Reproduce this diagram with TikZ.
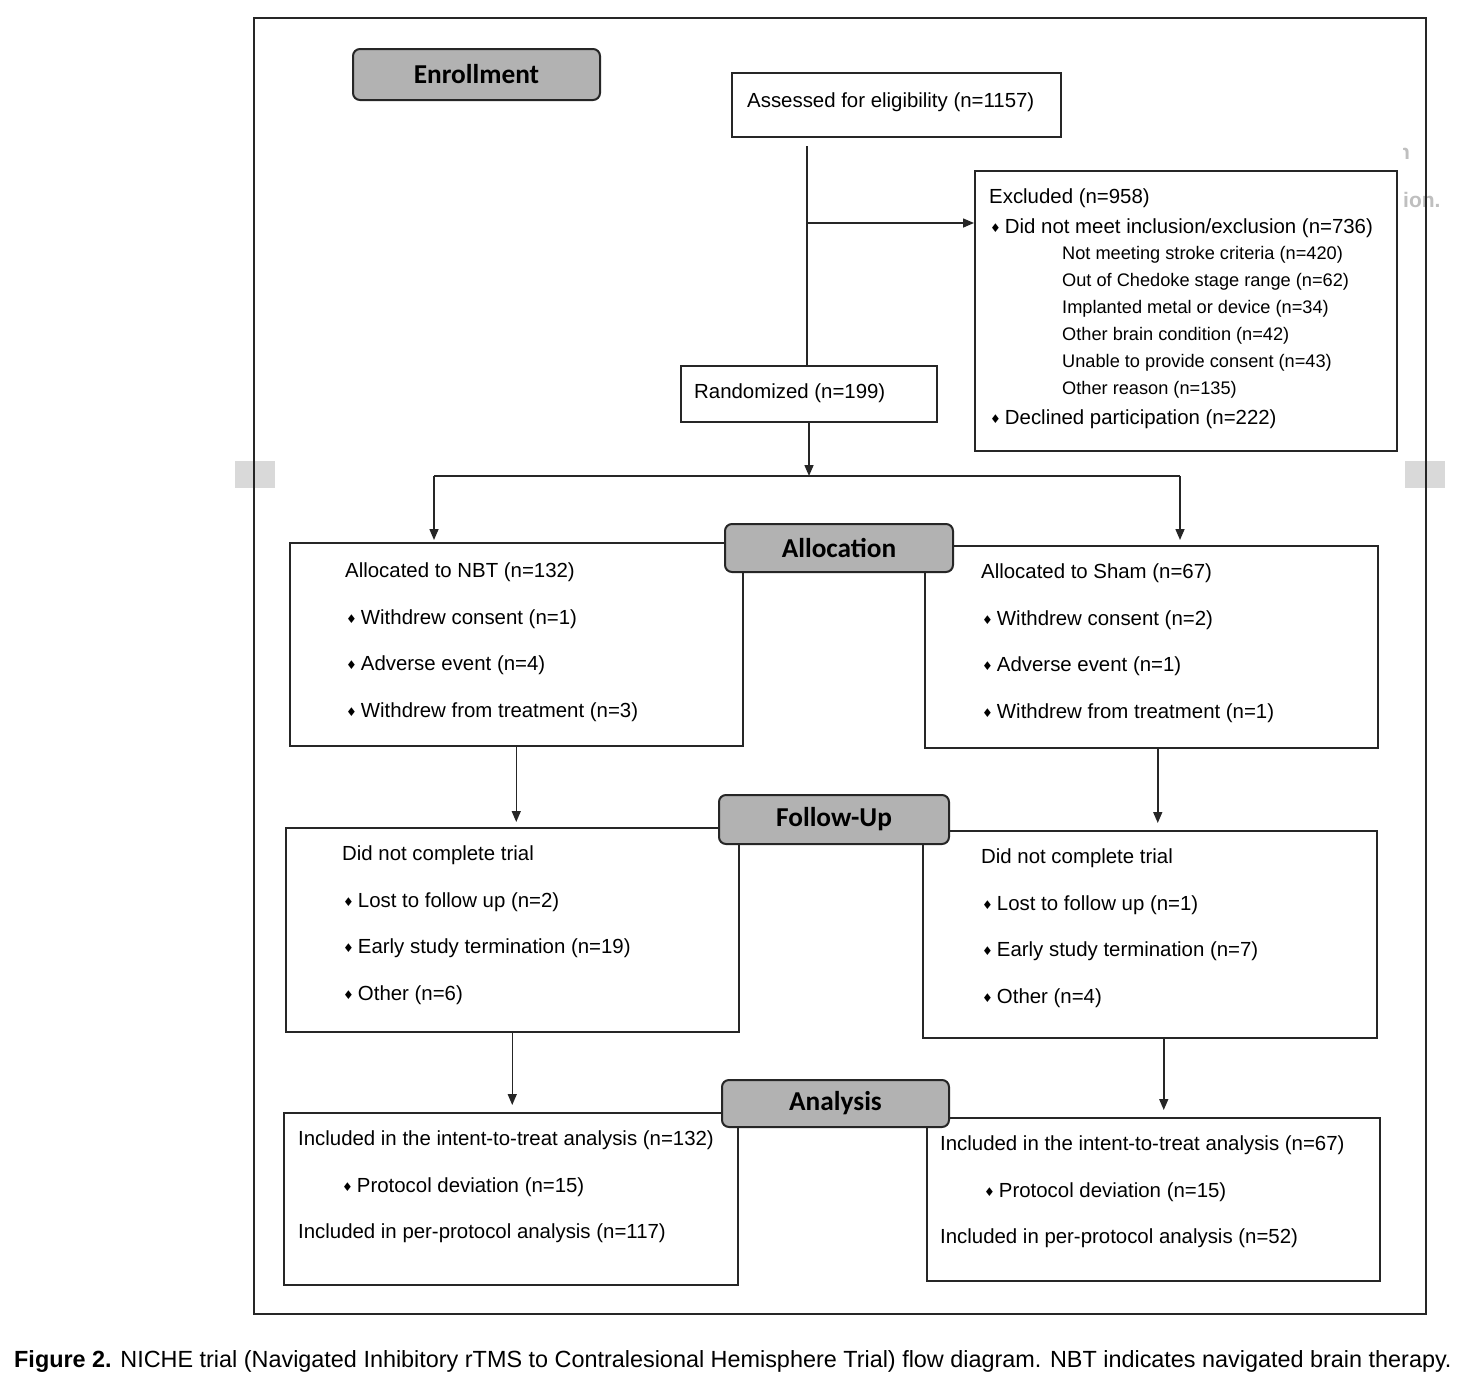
\documentclass[tikz,border=0pt]{standalone}
\usepackage{fontspec}
\setmainfont{Liberation Sans}
\newfontfamily\lblfont{Carlito}
\newfontfamily\djv{DejaVu Sans}
\usetikzlibrary{arrows.meta}
\newcommand\bul{{\djv\fontsize{12}{12}\selectfont\raisebox{0.5pt}{♦}}\hspace{4pt}}
\begin{document}
\begin{tikzpicture}[x=1pt,y=-1pt,
 box/.style={draw=black!85, line width=1.5pt, inner sep=0pt, anchor=north west, fill=white},
 lbl/.style={draw=black!85, line width=2pt, rounded corners=7pt, fill=black!30, inner sep=0pt, anchor=north west, font=\lblfont\bfseries\fontsize{27.3}{27}\selectfont},
 txt/.style={inner sep=0pt, anchor=west, yshift=-2pt, font=\fontsize{20.4}{24}\selectfont, text=black},
 sub/.style={txt, font=\fontsize{18.2}{22}\selectfont},
 arr/.style={line width=1.5pt, draw=black!85, -{Triangle[length=11pt,width=9pt]}},
 ln/.style={line width=1.5pt, draw=black!85}]
\useasboundingbox (0,0) rectangle (1472,1384);
\fill[white] (0,0) rectangle (1472,1384);
% faint artifacts
\fill[black!15] (235,461) rectangle (275,488);
\fill[black!15] (1405,461) rectangle (1445,488);
\node[txt, text=black!25, font=\bfseries\fontsize{21}{21}\selectfont] (art1) at (1403,198) {ion.};
\begin{scope}
\clip (1403,138) rectangle (1415,162);
\node[txt, text=black!25, font=\bfseries\fontsize{21}{21}\selectfont] (art2) at (1397,152) {n};
\end{scope}
% outer frame
\draw[line width=2.2pt, draw=black!85] (254,18) rectangle (1426,1314);

% boxes
\node[box, minimum width=329pt, minimum height=64pt] (assess) at (731,72) {};
\node[box, minimum width=422pt, minimum height=280pt] (excl) at (974,170) {};
\node[box, minimum width=256pt, minimum height=56pt] (rand) at (680,365) {};
\node[box, minimum width=453pt, minimum height=203pt] (nbt) at (289,542) {};
\node[box, minimum width=453pt, minimum height=202pt] (sham) at (924,545) {};
\node[box, minimum width=453pt, minimum height=204pt] (ful) at (285,827) {};
\node[box, minimum width=454pt, minimum height=207pt] (fur) at (922,830) {};
\node[box, minimum width=454pt, minimum height=172pt] (anl) at (283,1112) {};
\node[box, minimum width=453pt, minimum height=163pt] (anr) at (926,1117) {};

% label boxes
\node[lbl, minimum width=247pt, minimum height=51pt] (enr) at (352,48) {Enrollment};
\node[lbl, minimum width=228pt, minimum height=48pt] (alloc) at (724,523) {Allocation};
\node[lbl, minimum width=230pt, minimum height=49pt] (fu) at (718,794) {Follow-Up};
\node[lbl, minimum width=227pt, minimum height=47pt] (ana) at (721,1079) {Analysis};

% connectors
\coordinate (a0) at (807,146);
\coordinate (a1) at (807,223);
\draw[ln] (a0) -- (a0 |- rand.north);
\draw[arr] (a1) -- (a1 -| excl.west);
\coordinate (split) at (809,476);
\coordinate (sl) at (434,476);
\coordinate (sr) at (1180,476);
\draw[arr] (rand.south -| split) -- (split);
\draw[ln] (sl) -- (sr);
\draw[arr] (sl) -- ([yshift=2pt]sl |- nbt.north);
\draw[arr] (sr) -- ([yshift=5pt]sr |- sham.north);
\draw[arr] (nbt.south) -- ([yshift=5pt]nbt.south |- ful.north);
\draw[arr] ([xshift=6.5pt]sham.south) -- ([yshift=7pt,xshift=6.5pt]sham.south |- fur.north);
\draw[arr] (ful.south) -- ([yshift=7pt]ful.south |- anl.north);
\draw[arr] ([xshift=14pt]fur.south) -- ([yshift=7pt,xshift=14pt]fur.south |- anr.north);

% texts
\node[txt] (assess-t) at (747,100) {Assessed for eligibility (n=1157)};
\node[txt] (ex0) at (989,196) {Excluded (n=958)};
\node[txt] (ex1) at (990,226) {\bul Did not meet inclusion/exclusion (n=736)};
\node[sub] (ex2) at (1062,253) {Not meeting stroke criteria (n=420)};
\node[sub] (ex3) at (1062,280) {Out of Chedoke stage range (n=62)};
\node[sub] (ex4) at (1062,307) {Implanted metal or device (n=34)};
\node[sub] (ex5) at (1062,334) {Other brain condition (n=42)};
\node[sub] (ex6) at (1062,361) {Unable to provide consent (n=43)};
\node[sub] (ex7) at (1062,388) {Other reason (n=135)};
\node[txt] (ex8) at (990,417) {\bul Declined participation (n=222)};
\node[txt] (rand-t) at (694,391) {Randomized (n=199)};

\node[txt] (nbt0) at (345,570) {Allocated to NBT (n=132)};
\node[txt] (nbt1) at (346,617) {\bul Withdrew consent (n=1)};
\node[txt] (nbt2) at (346,663) {\bul Adverse event (n=4)};
\node[txt] (nbt3) at (346,710) {\bul Withdrew from treatment (n=3)};

\node[txt] (sh0) at (981,571) {Allocated to Sham (n=67)};
\node[txt] (sh1) at (982,618) {\bul Withdrew consent (n=2)};
\node[txt] (sh2) at (982,664) {\bul Adverse event (n=1)};
\node[txt] (sh3) at (982,711) {\bul Withdrew from treatment (n=1)};

\node[txt] (fl0) at (342,853) {Did not complete trial};
\node[txt] (fl1) at (343,900) {\bul Lost to follow up (n=2)};
\node[txt] (fl2) at (343,946) {\bul Early study termination (n=19)};
\node[txt] (fl3) at (343,993) {\bul Other (n=6)};

\node[txt] (fr0) at (981,856) {Did not complete trial};
\node[txt] (fr1) at (982,903) {\bul Lost to follow up (n=1)};
\node[txt] (fr2) at (982,949) {\bul Early study termination (n=7)};
\node[txt] (fr3) at (982,996) {\bul Other (n=4)};

\node[txt] (al0) at (298,1138) {Included in the intent-to-treat analysis (n=132)};
\node[txt] (al1) at (342,1185) {\bul Protocol deviation (n=15)};
\node[txt] (al2) at (298,1231) {Included in per-protocol analysis (n=117)};

\node[txt] (ar0) at (940,1143) {Included in the intent-to-treat analysis (n=67)};
\node[txt] (ar1) at (984,1190) {\bul Protocol deviation (n=15)};
\node[txt] (ar2) at (940,1236) {Included in per-protocol analysis (n=52)};

% caption
\node[txt, text=black, font=\fontsize{23.4}{26}\selectfont] (cap) at (14,1359) {\textbf{Figure 2.} NICHE trial (Navigated Inhibitory rTMS to Contralesional Hemisphere Trial) flow diagram. NBT indicates navigated brain therapy.};
\end{tikzpicture}
\end{document}
